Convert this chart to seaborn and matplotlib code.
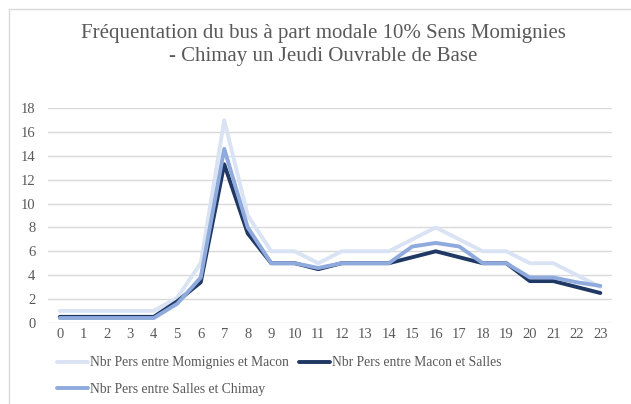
import matplotlib
matplotlib.use("Agg")
import matplotlib.pyplot as plt
import seaborn as sns
import pandas as pd
from matplotlib.lines import Line2D

hours = list(range(24))
momignies_macon = [1, 1, 1, 1, 1, 2.1, 5, 17, 9, 6, 6, 5, 6, 6, 6, 7, 8, 7, 6, 6, 5, 5, 4, 3]
macon_salles = [0.5, 0.5, 0.5, 0.5, 0.5, 1.8, 3.4, 13.3, 7.5, 5, 5, 4.5, 5, 5, 5, 5.5, 6, 5.5, 5, 5, 3.5, 3.5, 3, 2.5]
salles_chimay = [0.4, 0.4, 0.4, 0.4, 0.4, 1.6, 3.8, 14.6, 8, 5, 5, 4.6, 5, 5, 5, 6.4, 6.7, 6.4, 5, 5, 3.8, 3.8, 3.4, 3.1]
series_names = ["Nbr Pers entre Momignies et Macon",
                "Nbr Pers entre Macon et Salles",
                "Nbr Pers entre Salles et Chimay"]
colors = ["#DAE3F3", "#203864", "#8FAADC"]
title = "Fréquentation du bus à part modale 10% Sens Momignies\n- Chimay un Jeudi Ouvrable de Base"

df = pd.concat([
    pd.DataFrame({"heure": hours, "val": v, "serie": n})
    for v, n in zip([momignies_macon, macon_salles, salles_chimay], series_names)
])

sns.set_theme(style="white")
plt.rcParams["font.family"] = ["Liberation Serif", "DejaVu Serif"]

fig = plt.figure(figsize=(6.31, 4.04), dpi=100)
ax = fig.add_axes([0.076, 0.201, 0.894, 0.531])
sns.lineplot(data=df, x="heure", y="val", hue="serie", palette=colors,
             hue_order=series_names, linewidth=2.8, ax=ax, legend=False)

ax.set_xlim(-0.5, 23.5)
ax.set_ylim(0, 18)
ax.set_xticks(hours)
ax.set_xticklabels([str(h) for h in hours])
ax.set_yticks(range(0, 19, 2))
ax.yaxis.grid(True, color="#D9D9D9", linewidth=1)
ax.set_axisbelow(True)
for s in ax.spines.values():
    s.set_visible(False)
ax.tick_params(axis="both", length=0, labelsize=10.5, colors="#595959", pad=4)
ax.tick_params(axis="y", pad=9)
ax.set_xlabel("")
ax.set_ylabel("")

fig.text(0.512, 0.94, title, ha="center", va="top", fontsize=15,
         color="#595959", linespacing=1.25)

handles = [Line2D([], [], color=c, linewidth=2.8) for c in colors]
order = [0, 2, 1]
fig.legend([handles[i] for i in order], [series_names[i] for i in order],
           loc="upper left", bbox_to_anchor=(0.090, 0.118), ncol=2, frameon=False,
           fontsize=9.8, labelcolor="#595959", handlelength=2.3, handletextpad=0.15,
           columnspacing=0.7, labelspacing=1.0, borderaxespad=0, borderpad=0)

# chart-area border: only left and top edges fall inside the image
fig.add_artist(Line2D([9 / 631, 9 / 631], [0, 1 - 9 / 404], transform=fig.transFigure,
                      color="#D9D9D9", linewidth=1))
fig.add_artist(Line2D([9 / 631, 1], [1 - 9 / 404, 1 - 9 / 404], transform=fig.transFigure,
                      color="#D9D9D9", linewidth=1))

fig.savefig("out.png", dpi=100)
